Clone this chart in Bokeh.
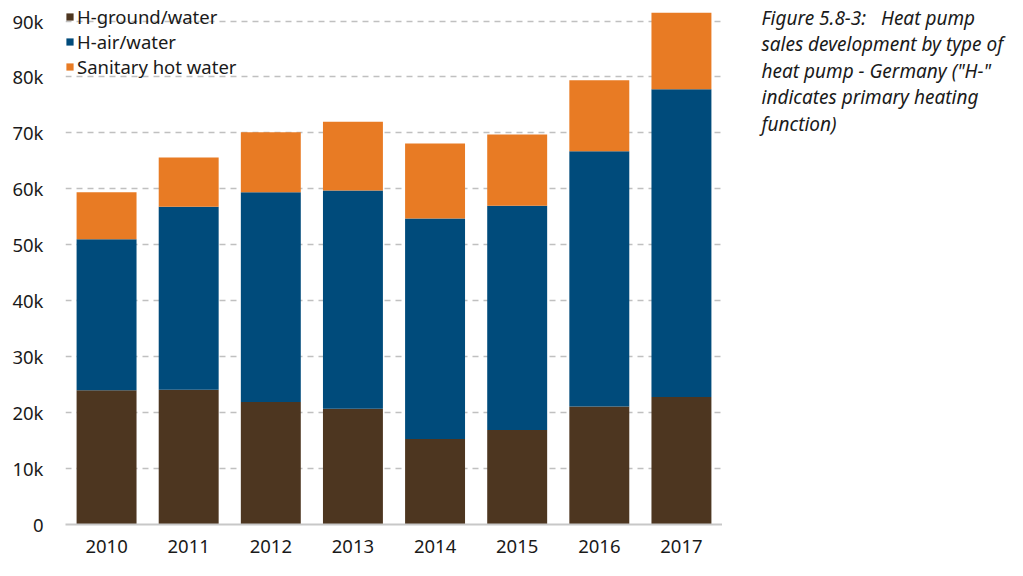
from bokeh.plotting import figure
from bokeh.layouts import row
from bokeh.models import FactorRange, ColumnDataSource, Legend, LegendItem, FixedTicker, CustomJSTickFormatter, Range1d
from bokeh.core.properties import value
from bokeh.embed import file_html
from bokeh.resources import INLINE

years = ["2010", "2011", "2012", "2013", "2014", "2015", "2016", "2017"]
ground_water = [24000, 24100, 21900, 20700, 15300, 16900, 21100, 22800]
air_water = [27000, 32700, 37500, 39000, 39400, 40100, 45600, 55000]
hot_water = [8400, 8800, 10700, 12300, 13400, 12700, 12700, 13700]
series = ["H-ground/water", "H-air/water", "Sanitary hot water"]
colors = ["#4d3620", "#004b7b", "#e87b24"]
y_ticks = [0, 10000, 20000, 30000, 40000, 50000, 60000, 70000, 80000, 90000]
caption = ["Figure 5.8-3:\u00a0\u00a0\u00a0Heat pump", "sales development by type of",
           "heat pump - Germany (\"H-\"", "indicates primary heating", "function)"]

FONT = "Noto Sans"
W, H = 1023, 576
FRAME_LEFT, FRAME_RIGHT, FRAME_BOTTOM = 65, 722, 524

src = ColumnDataSource(dict(year=years, g=ground_water, a=air_water, h=hot_water))

p = figure(width=FRAME_RIGHT, height=H, output_backend="svg", toolbar_location=None,
           x_range=FactorRange(factors=years, range_padding=0), y_range=(0, 93670),
           min_border_left=FRAME_LEFT, min_border_right=0, min_border_top=0,
           min_border_bottom=H - FRAME_BOTTOM)
p.outline_line_color = None

r = p.vbar_stack(["g", "a", "h"], x="year", width=0.73, color=colors, source=src, line_color=None)

p.yaxis.ticker = FixedTicker(ticks=y_ticks)
p.yaxis.formatter = CustomJSTickFormatter(code="return tick == 0 ? '0' : (tick/1000) + 'k';")
p.yaxis.axis_line_color = None
p.yaxis.major_tick_line_color = None
p.yaxis.minor_tick_line_color = None
p.yaxis.major_label_standoff = 16
p.yaxis.major_label_text_font_size = "18.5px"
p.yaxis.major_label_text_font = FONT
p.yaxis.major_label_text_color = "#1a1a1a"

p.xaxis.axis_line_color = "#c8c8c8"
p.xaxis.axis_line_width = 2
p.xaxis.major_tick_line_color = None
p.xaxis.major_label_standoff = 9
p.xaxis.major_label_text_font_size = "18.5px"
p.xaxis.major_label_text_font = FONT
p.xaxis.major_label_text_color = "#1a1a1a"

p.xgrid.grid_line_color = None
p.ygrid.grid_line_color = "#c0c0c0"
p.ygrid.grid_line_dash = "6 5"
p.ygrid.grid_line_width = 1.5

legend = Legend(items=[LegendItem(label=s, renderers=[r[i]]) for i, s in enumerate(series)],
                location=(0, 445), border_line_color=None, background_fill_alpha=0,
                label_text_font=FONT, label_text_font_size="18.5px", label_text_color="#1a1a1a",
                glyph_width=9, glyph_height=9, label_standoff=3, spacing=0, label_height=22,
                padding=0, margin=0)
p.add_layout(legend)

# caption panel to the right of the chart
c = figure(frame_width=W - FRAME_RIGHT, frame_height=H, output_backend="svg", toolbar_location=None,
           x_range=Range1d(0, W - FRAME_RIGHT), y_range=Range1d(0, H),
           x_axis_location=None, y_axis_location=None, title=None,
           min_border=0, outline_line_color=None)
c.grid.visible = False
cap_src = ColumnDataSource(dict(x=[39] * len(caption),
                                y=[H - 17 - i * 26.5 for i in range(len(caption))],
                                t=caption))
c.text(x="x", y="y", text="t", source=cap_src, text_font=value(FONT), text_font_style="italic",
       text_font_size="19px", text_color="#1a1a1a", text_baseline="middle")

layout = row(p, c, spacing=0)
open("out.html", "w").write(file_html(layout, INLINE))
